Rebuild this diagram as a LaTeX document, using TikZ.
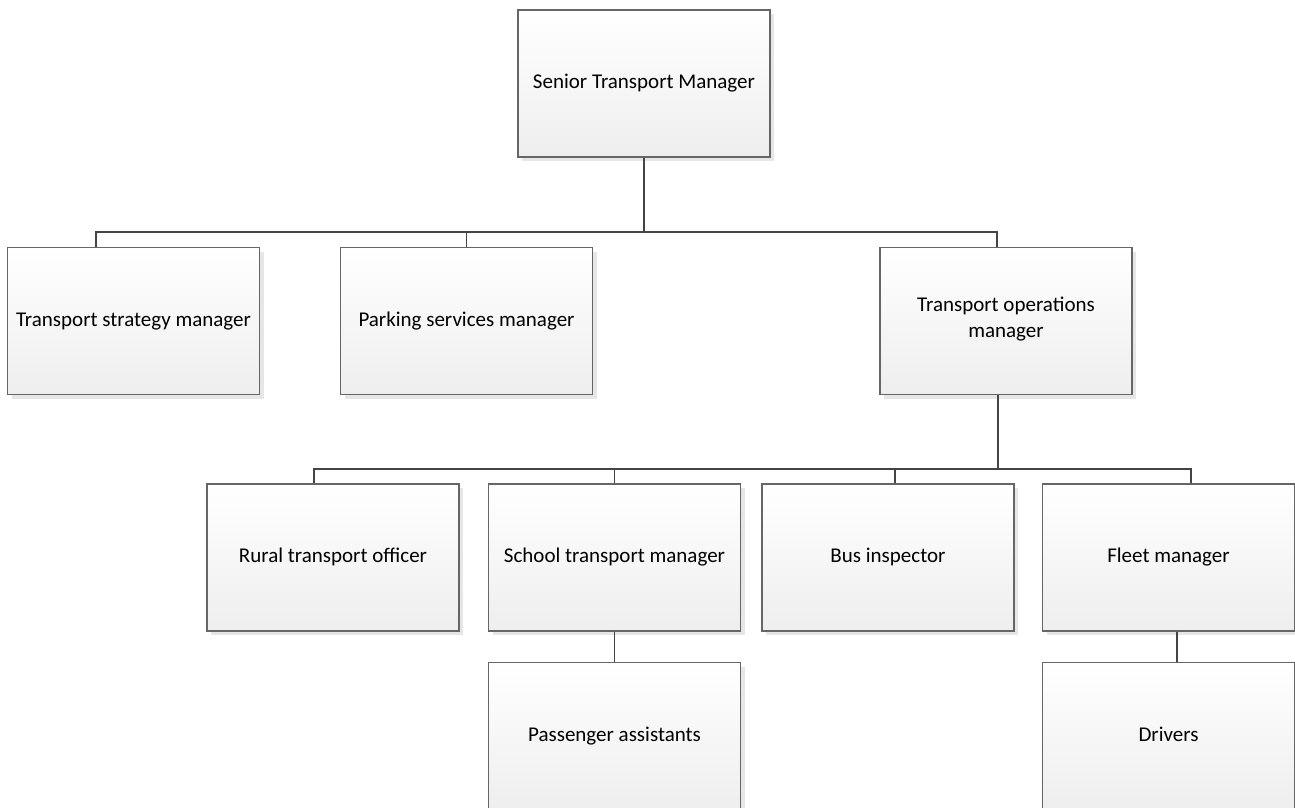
\documentclass[tikz,border=0pt]{standalone}
\usepackage{fontspec}
\setmainfont{Carlito}
\usetikzlibrary{shadows}
\definecolor{boxline}{HTML}{666666}
\definecolor{connline}{HTML}{444444}
\definecolor{boxbottom}{HTML}{EEEEEE}
\definecolor{shadowc}{HTML}{E6E6E6}
\tikzset{
  orgbox/.style={draw=boxline, line width=1.2pt, top color=white, bottom color=boxbottom,
    minimum width=252pt, minimum height=147pt, inner sep=0pt, align=center,
    font=\fontsize{21}{26}\selectfont,
    execute at begin node=\strut, execute at end node=\strut,
    drop shadow={shadow xshift=4pt, shadow yshift=-4pt, fill=shadowc, opacity=1}},
  conn/.style={draw=connline, line width=1.6pt}
}
\begin{document}
\begin{tikzpicture}[x=1pt,y=-1pt]
\useasboundingbox (0,0) rectangle (1295,807);
\clip (0,0) rectangle (1295,807);
\node[orgbox] (senior) at (644,83.5) {Senior Transport Manager};
\node[orgbox] (strat) at (133.5,321) {Transport strategy manager};
\node[orgbox] (park) at (466.5,321) {Parking services manager};
\node[orgbox] (ops) at (1006,321) {Transport operations\\manager};
\node[orgbox] (rural) at (333,557.5) {Rural transport officer};
\node[orgbox] (school) at (614.5,557.5) {School transport manager};
\node[orgbox] (bus) at (888,557.5) {Bus inspector};
\node[orgbox] (fleet) at (1168.5,557.5) {Fleet manager};
\node[orgbox] (pass) at (614.5,736) {Passenger assistants};
\node[orgbox] (drivers) at (1168.5,736) {Drivers};
\coordinate (bar1) at (644,232);
\coordinate (bar2) at (998,469);
\draw[conn] (senior.south) -- (bar1);
\draw[conn] ([xshift=-37.5pt]strat.north) |- (bar1) -| ([xshift=-9pt]ops.north);
\draw[conn] (park.north) -- (park.north |- bar1);
\draw[conn] (ops.south -| bar2) -- (bar2);
\draw[conn] ([xshift=-19pt]rural.north) |- (bar2) -| ([xshift=22.5pt]fleet.north);
\draw[conn] (school.north) -- (school.north |- bar2);
\draw[conn] ([xshift=7pt]bus.north) -- ++(0,-15);
\draw[conn] (school.south) -- (pass.north);
\draw[conn] ([xshift=8.5pt]fleet.south) -- ([xshift=8.5pt]drivers.north);
\end{tikzpicture}
\end{document}
